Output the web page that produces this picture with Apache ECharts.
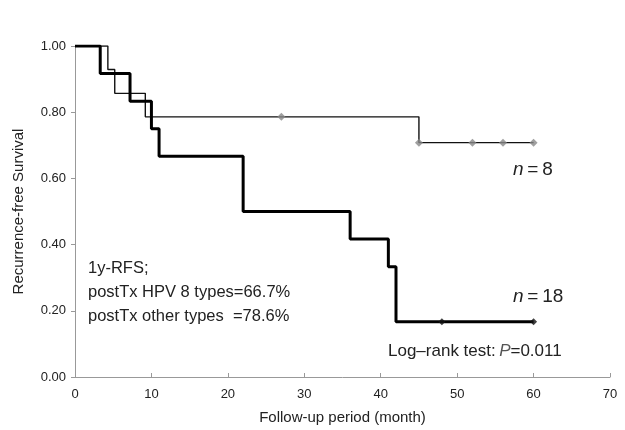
<!DOCTYPE html>
<html>
<head>
<meta charset="utf-8">
<script src="https://cdn.jsdelivr.net/npm/echarts@6/dist/echarts.min.js"></script>
<style>
  body { margin: 0; background: #fff; }
  #chart { width: 625px; height: 430px; }
</style>
</head>
<body>
<div id="chart"></div>
<script>
// survival steps
const hpv8Time = [0, 3.3, 7.2, 10, 11, 22, 36, 41, 42, 60];
const hpv8Surv = [1.0, 0.917, 0.833, 0.75, 0.667, 0.5, 0.417, 0.333, 0.167, 0.167];
const hpv8CensorTime = [48, 60];
const hpv8CensorSurv = [0.167, 0.167];

const otherTime = [0, 4.3, 5.2, 9.2, 45, 60];
const otherSurv = [1.0, 0.929, 0.857, 0.786, 0.708, 0.708];
const otherCensorTime = [27, 45, 52, 56, 60];
const otherCensorSurv = [0.786, 0.708, 0.708, 0.708, 0.708];

const xTicks = [0, 10, 20, 30, 40, 50, 60, 70];
const yTicks = [0, 0.2, 0.4, 0.6, 0.8, 1.0];

function pairs(xs, ys) { return xs.map((x, i) => [x, ys[i]]); }

let chart = echarts.init(document.getElementById('chart'));
const font = 'Liberation Sans, Arial, sans-serif';
const th = '\u2009';

chart.setOption({
  animation: false,
  grid: { left: 75, right: 15, top: 46, bottom: 53 },
  xAxis: {
    type: 'value', min: xTicks[0], max: xTicks[xTicks.length - 1], interval: 10,
    name: 'Follow-up period (month)', nameLocation: 'middle', nameGap: 33,
    nameTextStyle: { fontFamily: font, fontSize: 15, color: '#222' },
    axisLine: { lineStyle: { color: '#999', width: 1 } },
    axisTick: { inside: true, length: 4, lineStyle: { color: '#999' } },
    axisLabel: { fontFamily: font, fontSize: 13, color: '#222', margin: 11 },
    splitLine: { show: false }
  },
  yAxis: {
    type: 'value', min: yTicks[0], max: yTicks[yTicks.length - 1], interval: 0.2,
    name: 'Recurrence-free Survival', nameLocation: 'middle', nameGap: 49,
    nameTextStyle: { fontFamily: font, fontSize: 15, color: '#222' },
    axisLine: { show: true, lineStyle: { color: '#999', width: 1 } },
    axisTick: { show: true, length: 4, lineStyle: { color: '#999' } },
    axisLabel: { fontFamily: font, fontSize: 13, color: '#222', margin: 9,
      formatter: v => v.toFixed(2) },
    splitLine: { show: false }
  },
  series: [
    {
      name: 'other', type: 'line', step: 'end', showSymbol: false,
      data: pairs(otherTime, otherSurv),
      lineStyle: { color: '#111', width: 1.4 }, z: 2
    },
    {
      name: 'hpv8', type: 'line', step: 'end', showSymbol: false,
      data: pairs(hpv8Time, hpv8Surv),
      lineStyle: { color: '#000', width: 3 }, z: 3
    },
    {
      name: 'other censored', type: 'scatter', symbol: 'diamond', symbolSize: 8,
      data: pairs(otherCensorTime, otherCensorSurv),
      itemStyle: { color: '#888' }, z: 4
    },
    {
      name: 'hpv8 censored', type: 'scatter', symbol: 'diamond', symbolSize: 7,
      data: pairs(hpv8CensorTime, hpv8CensorSurv),
      itemStyle: { color: '#111' }, z: 4
    }
  ],
  graphic: [
    { type: 'text', left: 513, top: 160, style: { text: '{i|n}' + th + '=' + th + '8', fontFamily: font, fontSize: 19, fill: '#222',
      rich: { i: { fontStyle: 'italic', fontFamily: font, fontSize: 19, fill: '#222' } } } },
    { type: 'text', left: 513, top: 287, style: { text: '{i|n}' + th + '=' + th + '18', fontFamily: font, fontSize: 19, fill: '#222',
      rich: { i: { fontStyle: 'italic', fontFamily: font, fontSize: 19, fill: '#222' } } } },
    { type: 'text', left: 88, top: 256, style: { text: '1y-RFS;\npostTx HPV 8 types=66.7%\npostTx other types  =78.6%',
      fontFamily: font, fontSize: 16.5, lineHeight: 24, fill: '#222' } },
    { type: 'text', left: 388, top: 343, style: { text: 'Log\u2013rank test:' + th + '{i|P}=0.011', fontFamily: font, fontSize: 17, fill: '#222',
      rich: { i: { fontStyle: 'italic', fontFamily: font, fontSize: 17, fill: '#555' } } } }
  ]
});
</script>
</body>
</html>
